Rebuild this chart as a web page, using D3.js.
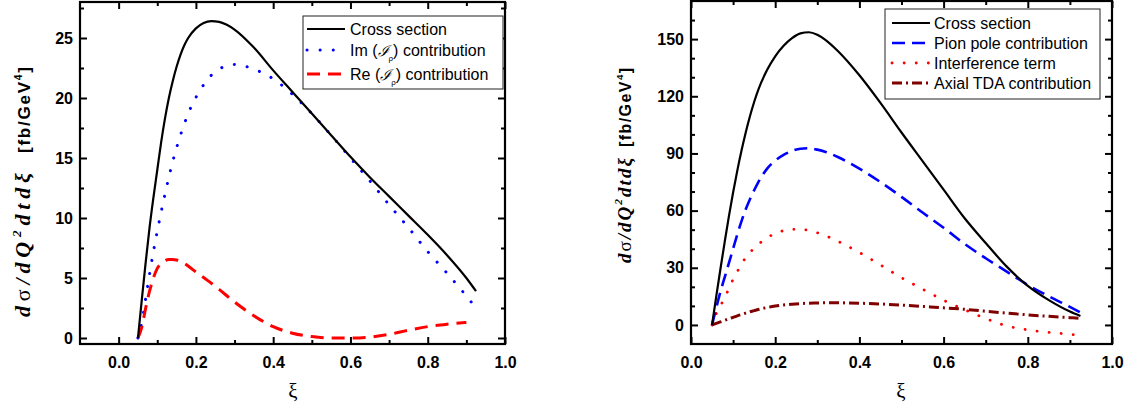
<!DOCTYPE html>
<html>
<head>
<meta charset="utf-8">
<script src="https://cdn.jsdelivr.net/npm/d3@7"></script>
<style>
  body { margin: 0; background: #fff; }
  svg { display: block; }
  .tick text { font-family: "Liberation Sans", Arial, sans-serif; font-weight: bold; font-size: 16px; fill: #000; }
</style>
</head>
<body>
<div class="chart"></div>
<script>
// ---- left panel data ----
const xiL = [0.05, 0.06, 0.07, 0.08, 0.09, 0.10, 0.11, 0.12, 0.13, 0.14, 0.15, 0.16, 0.17, 0.18, 0.20, 0.22, 0.24, 0.26, 0.28, 0.30, 0.35, 0.40, 0.45, 0.50, 0.55, 0.60, 0.65, 0.70, 0.75, 0.80, 0.85, 0.90, 0.925]
const crossL = [0, 3.2, 6.3, 9.2, 11.7, 14.0, 16.3, 18.3, 20.0, 21.4, 22.6, 23.6, 24.4, 25.0, 25.8, 26.25, 26.4, 26.35, 26.1, 25.7, 24.2, 22.3, 20.5, 18.7, 16.9, 15.1, 13.4, 11.8, 10.2, 8.6, 6.9, 5.0, 3.9]
const imL = [0, 1.3, 3.3, 5.3, 7.2, 8.9, 10.5, 12.0, 13.4, 14.7, 15.85, 16.9, 17.85, 18.7, 20.05, 21.1, 21.9, 22.4, 22.7, 22.8, 22.4, 21.6, 20.3, 18.7, 16.9, 15.0, 13.1, 11.1, 9.2, 7.2, 5.4, 3.5, 2.5]
const xiRe = [0.05, 0.06, 0.07, 0.08, 0.09, 0.10, 0.11, 0.12, 0.13, 0.14, 0.15, 0.16, 0.18, 0.20, 0.23, 0.26, 0.30, 0.35, 0.40, 0.45, 0.50, 0.55, 0.60, 0.65, 0.70, 0.75, 0.80, 0.85, 0.90]
const reL = [0, 0.9, 2.5, 3.9, 5.0, 5.8, 6.2, 6.45, 6.55, 6.55, 6.5, 6.4, 6.0, 5.5, 4.8, 4.05, 3.0, 1.85, 0.95, 0.4, 0.12, 0.0, 0.0, 0.08, 0.3, 0.65, 0.95, 1.15, 1.3]

// ---- right panel data ----
const xiR = [0.05, 0.06, 0.07, 0.08, 0.09, 0.10, 0.11, 0.12, 0.13, 0.14, 0.15, 0.16, 0.18, 0.20, 0.22, 0.24, 0.26, 0.28, 0.30, 0.32, 0.35, 0.40, 0.45, 0.50, 0.55, 0.60, 0.65, 0.70, 0.75, 0.80, 0.85, 0.90, 0.925]
const crossR = [0, 15, 29.5, 43.5, 57, 69.5, 81, 91.5, 101, 109.5, 117, 123.5, 133.5, 141, 146.5, 150.5, 153, 153.6, 152.3, 149.5, 143.5, 131, 116.5, 101, 86, 71, 56, 43, 30.6, 20.5, 13, 7, 4.7]
const pionR = [0, 9, 17.5, 25, 32.5, 40, 47.5, 54.5, 60.7, 66, 70.7, 75, 81.8, 86.2, 89.2, 91.3, 92.5, 92.7, 92.0, 90.8, 88.0, 82.0, 75.0, 67.2, 59, 51, 42.5, 35, 28, 21, 15, 9.5, 6.5]
const interfR = [0, 6, 10, 14.5, 19, 24, 28, 32, 35.3, 38, 40.3, 42.3, 45.6, 48, 49.5, 50.2, 50.2, 49.6, 48.4, 46.8, 43.8, 38, 31.5, 24.8, 18.8, 13, 8, 3.4, -0.5, -2.6, -3.9, -4.9, -5.5]
const axialR = [0, 0.8, 1.6, 2.4, 3.2, 4.0, 4.8, 5.5, 6.2, 6.9, 7.5, 8.1, 9.1, 9.9, 10.5, 10.9, 11.2, 11.4, 11.5, 11.6, 11.6, 11.4, 11.0, 10.4, 9.7, 9.0, 8.2, 7.2, 6.2, 5.3, 4.5, 3.8, 3.5]

// ---- ticks ----
const xTicks = [0, 0.2, 0.4, 0.6, 0.8, 1.0]
const xMinor = [0.1, 0.3, 0.5, 0.7, 0.9]
const yTicksL = [0, 5, 10, 15, 20, 25]
const yMinorL = [2.5, 7.5, 12.5, 17.5, 22.5, 27.5]
const yTicksR = [0, 30, 60, 90, 120, 150]
const yMinorR = [10, 20, 40, 50, 70, 80, 100, 110, 130, 140, 160]

const legendL = ["Cross section", "Im", "Re"]
const legendR = ["Cross section", "Pion pole contribution", "Interference term", "Axial TDA contribution"]

const width = 1134, height = 410

const svg = d3.select(".chart").append("svg")
	.attr("width", width)
	.attr("height", height)

function frame(x, y) {
	const g = svg.append("g")
	const [x0, x1] = x.range()
	const [y0, y1] = y.range()
	const clipId = "clip" + Math.round(x0)
	svg.append("clipPath").attr("id", clipId)
		.append("rect").attr("x", x0).attr("y", y1).attr("width", x1 - x0).attr("height", y0 - y1)
	return { g, clipId }
}

function drawAxes(x, y, xMaj, xMin, yMaj, yMin, yFmt) {
	const [x0, x1] = x.range()
	const [y0, y1] = y.range()
	const major = 7, minor = 4
	const mk = (axis, tr) => {
		const a = svg.append("g").attr("transform", tr).call(axis)
		a.select(".domain").remove()
		a.selectAll("line").attr("stroke", "#000").attr("stroke-width", 2)
		return a
	}
	// bottom
	mk(d3.axisBottom(x).tickValues(xMaj).tickSize(-major).tickPadding(13).tickFormat(d3.format(".1f")), `translate(0,${y0})`)
	mk(d3.axisBottom(x).tickValues(xMin).tickSize(-minor).tickFormat(""), `translate(0,${y0})`)
	// top
	mk(d3.axisTop(x).tickValues(xMaj).tickSize(-major).tickFormat(""), `translate(0,${y1})`)
	mk(d3.axisTop(x).tickValues(xMin).tickSize(-minor).tickFormat(""), `translate(0,${y1})`)
	// left
	mk(d3.axisLeft(y).tickValues(yMaj).tickSize(-major).tickPadding(7).tickFormat(yFmt), `translate(${x0},0)`)
	mk(d3.axisLeft(y).tickValues(yMin).tickSize(-minor).tickFormat(""), `translate(${x0},0)`)
	// right
	mk(d3.axisRight(y).tickValues(yMaj).tickSize(-major).tickFormat(""), `translate(${x1},0)`)
	mk(d3.axisRight(y).tickValues(yMin).tickSize(-minor).tickFormat(""), `translate(${x1},0)`)
	svg.append("rect")
		.attr("x", x0).attr("y", y1)
		.attr("width", x1 - x0).attr("height", y0 - y1)
		.attr("fill", "none").attr("stroke", "#000").attr("stroke-width", 2.2)
}

const styles = {
	solid: { color: "#000", w: 2.2, dash: null, cap: "butt" },
	dotBlue: { color: "#0000ff", w: 3, dash: "0.1 13", cap: "round" },
	dashRed: { color: "#ff0000", w: 3, dash: "13 8", cap: "butt" },
	dashBlue: { color: "#0000ff", w: 2.6, dash: "13 7", cap: "butt" },
	dotRed: { color: "#ff0000", w: 2.8, dash: "0.1 12", cap: "round" },
	dashDot: { color: "#800000", w: 3, dash: "10 4 2 4", cap: "butt" }
}

function curve(g, clipId, x, y, xs, ys, st) {
	const line = d3.line().x((d, i) => x(xs[i])).y(d => y(d)).curve(d3.curveMonotoneX)
	g.append("path")
		.datum(ys)
		.attr("d", line)
		.attr("clip-path", `url(#${clipId})`)
		.attr("fill", "none")
		.attr("stroke", st.color)
		.attr("stroke-width", st.w)
		.attr("stroke-linecap", st.cap)
		.attr("stroke-linejoin", "round")
		.attr("stroke-dasharray", st.dash)
}

function sample(g, x1, x2, yy, st) {
	g.append("line")
		.attr("x1", x1).attr("x2", x2).attr("y1", yy).attr("y2", yy)
		.attr("stroke", st.color)
		.attr("stroke-width", st.w)
		.attr("stroke-linecap", st.cap)
		.attr("stroke-dasharray", st.dash)
}

function yLabel(cx, yStart, mathLen, mfs, yBr, brLen, fs) {
	const m = svg.append("text")
		.attr("transform", `translate(${cx},${yStart}) rotate(-90)`)
		.attr("font-family", "'Liberation Serif', 'Times New Roman', serif")
		.attr("font-style", "italic")
		.attr("font-weight", "bold")
		.attr("font-size", mfs)
		.attr("textLength", mathLen)
		.attr("lengthAdjust", "spacing")
	m.append("tspan").text("d")
	m.append("tspan").attr("font-style", "normal").attr("font-weight", "normal").text("σ")
	m.append("tspan").text("/dQ")
	m.append("tspan").attr("font-size", mfs * 0.6).attr("dy", -9).text("2")
	m.append("tspan").attr("dy", 9).text("dtdξ")
	const b = svg.append("text")
		.attr("transform", `translate(${cx},${yBr}) rotate(-90)`)
		.attr("font-family", "'Liberation Sans', Arial, sans-serif")
		.attr("font-weight", "bold")
		.attr("font-size", fs)
		.attr("textLength", brLen)
		.attr("lengthAdjust", "spacing")
	b.append("tspan").text("[fb/GeV")
	b.append("tspan").attr("font-size", fs * 0.6).attr("dy", -8).text("4")
	b.append("tspan").attr("dy", 8).text("]")
}

function xLabel(cx) {
	svg.append("text")
		.attr("x", cx).attr("y", 398)
		.attr("text-anchor", "middle")
		.attr("font-family", "'Liberation Serif', 'Times New Roman', serif")
		.attr("font-size", 21)
		.text("ξ")
}

// ================= left panel =================
const xL = d3.scaleLinear().domain([-0.1, 1.0]).range([80, 505])
const yL = d3.scaleLinear().domain([-0.5, 28]).range([344, 2])
const pL = frame(xL, yL)
curve(pL.g, pL.clipId, xL, yL, xiL, imL, styles.dotBlue)
curve(pL.g, pL.clipId, xL, yL, xiRe, reL, styles.dashRed)
curve(pL.g, pL.clipId, xL, yL, xiL, crossL, styles.solid)
drawAxes(xL, yL, xTicks, xMinor, yTicksL, yMinorL, d3.format("d"))
yLabel(30, 317, 144, 22, 153, 86, 17)
xLabel(293)

// left legend
const lgL = svg.append("g")
lgL.append("rect").attr("x", 303).attr("y", 16).attr("width", 200).attr("height", 73)
	.attr("fill", "#fff").attr("stroke", "#222").attr("stroke-width", 1)
const legFont = "'Liberation Sans', Arial, sans-serif"
const lgLy = [35, 56, 80]
const lgLst = [styles.solid, styles.dotBlue, styles.dashRed]
lgLy.forEach((yy, i) => {
	sample(lgL, 307, 345, yy - 6, lgLst[i])
	const t = lgL.append("text").attr("x", 350).attr("y", yy)
		.attr("font-family", legFont).attr("font-size", 16)
	if (i === 0) {
		t.text(legendL[0])
	} else {
		t.append("tspan").text(legendL[i] + " (")
		t.append("tspan").attr("font-family", "'DejaVu Serif', serif").attr("font-style", "italic").attr("font-size", 15).text("ℐ")
		t.append("tspan").attr("font-size", 8).attr("dy", 5).text("ρ")
		t.append("tspan").attr("dy", -5).text(") contribution")
	}
})

// ================= right panel =================
const xR = d3.scaleLinear().domain([0, 1.0]).range([691, 1112])
const yR = d3.scaleLinear().domain([-10, 170]).range([344, 1])
const pR = frame(xR, yR)
curve(pR.g, pR.clipId, xR, yR, xiR, interfR, styles.dotRed)
curve(pR.g, pR.clipId, xR, yR, xiR, axialR, styles.dashDot)
curve(pR.g, pR.clipId, xR, yR, xiR, pionR, styles.dashBlue)
curve(pR.g, pR.clipId, xR, yR, xiR, crossR, styles.solid)
drawAxes(xR, yR, xTicks, xMinor, yTicksR, yMinorR, d3.format("d"))
yLabel(631, 263, 105, 19, 147, 79, 16)
xLabel(901)

// right legend
const lgR = svg.append("g")
lgR.append("rect").attr("x", 885).attr("y", 9).attr("width", 215).attr("height", 90)
	.attr("fill", "#fff").attr("stroke", "#222").attr("stroke-width", 1)
const lgRst = [styles.solid, styles.dashBlue, styles.dotRed, styles.dashDot]
legendR.forEach((name, i) => {
	const yy = 23 + i * 20
	sample(lgR, 892, 930, yy, lgRst[i])
	lgR.append("text").attr("x", 934).attr("y", yy + 6)
		.attr("font-family", legFont).attr("font-size", 16)
		.text(name)
})
</script>
</body>
</html>
